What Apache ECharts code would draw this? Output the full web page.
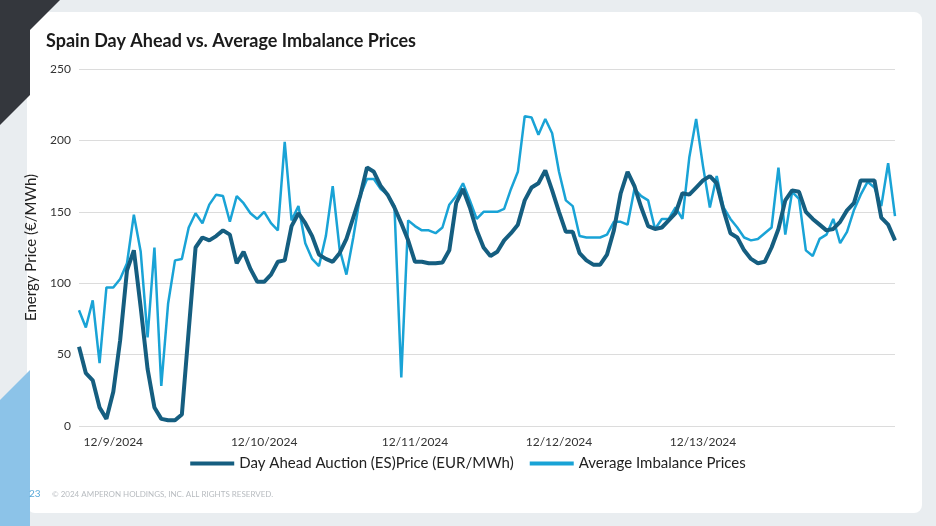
<!DOCTYPE html>
<html>
<head>
<meta charset="utf-8">
<script src="https://cdn.jsdelivr.net/npm/echarts@6/dist/echarts.min.js"></script>
<style>
html, body { margin: 0; padding: 0; background: #e9edf0; }
#chart { width: 936px; height: 526px; }
</style>
</head>
<body>
<div id="chart"></div>
<script>
"use strict"
// hourly points, 12/9 - 12/13
const dayAhead = [55.5,37,32,13,5,24,60,109,123,83,40,13,5,4,4,8,67,125,132,130,
  133,137,134,114,122,110,101,101,106,115,116,140,149,142,133,120,117,115,121,131,
  146,161,181,178,168,162,153,142,130,115,115,114,114,114.5,123,156,166,153,137,125,
  119,122,130,135,141,158,167,170,179,165,150,136,136,121,116,113,113,120,137,163,
  178,168,153,140,138,139,144,149,163,162,167,172,175,170,151,135,132,123,117,114,
  115,125,138,158,165,164,150,145,141,137,138,143,151,156,172,172,172,146,141,130];
const imbalance = [81,69,88,44,97,97,103,114,148,122,62,125,28,86,116,117,139,149,142,155,
  162,161,143,161,156,149,145,150,142,137,199,144,154,128,117,112,133,168,124,106,
  132,161,173,173,166,162,154,34,144,140,137,137,135,139,155,161,170,158,145,150,
  150,150,152,166,178,217,216,204,215,205,178,158,154,133,132,132,132,134,143,143,
  141,166,161,158,138,145,145,153,145,188,215,182,153,175,153,145,139,132,130,131,
  135,139,181,134,164,159,123,119,131,134,145,128,136,151,162,171,167,154,184,147];
const tickLabels = { 5: '12/9/2024', 27: '12/10/2024', 49: '12/11/2024', 70: '12/12/2024', 91: '12/13/2024' };
const categories = dayAhead.map(function (v, i) { return tickLabels[i] || ''; });

const chart = echarts.init(document.getElementById('chart'));
const option = {
  backgroundColor: '#e9edf0',
  textStyle: { fontFamily: 'Lato, "Open Sans", sans-serif' },
  graphic: [
    { type: 'polygon', shape: { points: [[0, 0], [60, 0], [30, 30], [30, 95], [0, 125]] }, style: { fill: '#34373d' } },
    { type: 'polygon', shape: { points: [[0, 400], [30, 370], [30, 526], [0, 526]] }, style: { fill: '#8cc3e8' } },
    { type: 'rect', shape: { x: 27, y: 12, width: 895, height: 501, r: 8 }, style: { fill: '#ffffff' }, z: -1 },
    { type: 'text', left: 46, top: 32, style: { text: 'Spain Day Ahead vs. Average Imbalance Prices', font: 'bold 18px Lato, sans-serif', fill: '#1b1b1b' } },
    { type: 'text', left: 29, top: 489, style: { text: '23', font: '10px Lato, sans-serif', fill: '#5aa9d8' } },
    { type: 'text', left: 52, top: 490, style: { text: '© 2024 AMPERON HOLDINGS, INC. ALL RIGHTS RESERVED.', font: '8px Lato, sans-serif', fill: '#b8bcc0' } }
  ],
  grid: { left: 79, right: 41, top: 69, bottom: 100 },
  legend: {
    bottom: 50, left: 'center', itemGap: 16,
    icon: 'rect', itemWidth: 44, itemHeight: 4,
    textStyle: { fontSize: 15, color: '#222' },
    data: ['Day Ahead Auction (ES)Price (EUR/MWh)', 'Average Imbalance Prices']
  },
  xAxis: {
    type: 'category', data: categories, boundaryGap: false,
    axisLine: { show: false }, axisTick: { show: false },
    axisLabel: { interval: 0, color: '#333', fontSize: 12, margin: 10 }
  },
  yAxis: {
    type: 'value', min: 0, max: 250, interval: 50,
    name: 'Energy Price (€/MWh)', nameLocation: 'middle', nameGap: 40,
    nameTextStyle: { fontSize: 15, color: '#222' },
    axisLabel: { color: '#333', fontSize: 12 },
    splitLine: { lineStyle: { color: '#dcdcdc' } }
  },
  series: [
    { name: 'Day Ahead Auction (ES)Price (EUR/MWh)', type: 'line', data: dayAhead, showSymbol: false,
      lineStyle: { width: 4, color: '#155e80' }, itemStyle: { color: '#155e80' }, z: 3 },
    { name: 'Average Imbalance Prices', type: 'line', data: imbalance, showSymbol: false,
      lineStyle: { width: 2.5, color: '#19a3d6' }, itemStyle: { color: '#19a3d6' }, z: 2 }
  ]
};
chart.setOption(option);
</script>
</body>
</html>
